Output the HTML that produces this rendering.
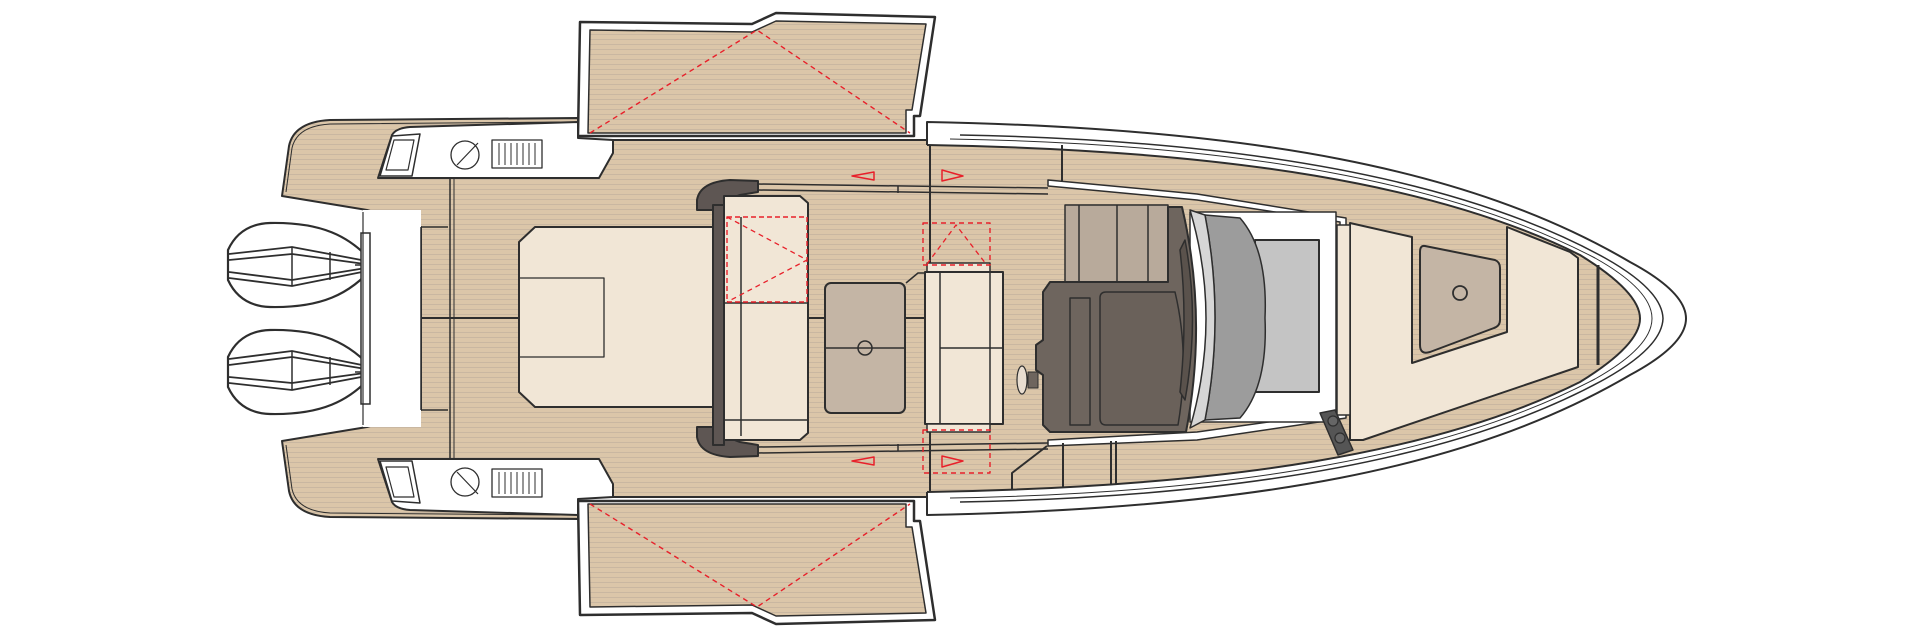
<!DOCTYPE html>
<html><head><meta charset="utf-8"><style>
html,body{margin:0;padding:0;background:#fff;}
svg{display:block;}
</style></head><body>
<svg width="1920" height="637" viewBox="0 0 1920 637" xmlns="http://www.w3.org/2000/svg">
<defs>
<pattern id="wood" width="10" height="5" patternUnits="userSpaceOnUse">
<rect width="10" height="5" fill="#dbc6a9"/>
<line x1="0" y1="4.5" x2="10" y2="4.5" stroke="#c7b5a0" stroke-width="0.9"/>
</pattern>
<g id="half" stroke="#2e2e2e" stroke-width="2" stroke-linejoin="round">
  <path d="M578,136 L580,22 L752,24 L776,13 L935,17 L920,116 L914,116 L914,136 Z" fill="#fff" stroke-width="2.5"/>
  <path d="M588,133 L590,30 L752,32 L776,21 L926,24 L912,110 L906,110 L906,133 Z" fill="url(#wood)" stroke-width="1.5"/>
  <path d="M590,133 L757,30 L910,133" fill="none" stroke="#e8202a" stroke-width="1.4" stroke-dasharray="5,4"/>
  <path d="M282,196 L289,146 Q294,122 330,120 L578,118 L578,140 L930,140 L930,319 L421,319 L421,227 L367,210 Z" fill="url(#wood)"/>
  <path d="M286,192 L292,148 Q297,126 330,124 L560,122" fill="none" stroke-width="1"/>
  <path d="M378,178 L392,135 Q396,128 410,127 L578,122 L578,138 L613,140 L613,153 L599,178 Z" fill="#fff"/>
  <path d="M380,176 L392,136 L420,134 L412,176 Z" fill="#fff" stroke-width="1.5"/>
  <path d="M386,170 L394,140 L414,140 L408,170 Z" fill="#fff" stroke-width="1.2"/>
  <circle cx="465" cy="155" r="14" fill="none" stroke-width="1.3"/>
  <line x1="457" y1="165" x2="478" y2="143" stroke-width="1.2"/>
  <rect x="492" y="140" width="50" height="28" fill="#fff" stroke-width="1.3"/>
  <path d="M499,143v22M505,143v22M511,143v22M517,143v22M523,143v22M529,143v22M535,143v22" stroke-width="1"/>
  <path d="M927,122 C1250,128 1470,168 1630,262 Q1686,292 1686,318.5 L1640,318.5 Q1640,292 1580,255 C1440,185 1230,150 927,145 Z" fill="#fff" stroke="none"/>
  <path d="M927,145 L927,122 C1250,128 1470,168 1630,262 Q1686,292 1686,318.5" fill="none"/>
  <path d="M1640,318.5 Q1640,292 1580,255 C1440,185 1230,150 927,145" fill="none"/>
  <path d="M960,135 C1240,140 1460,178 1605,258 Q1662,290 1663,318.5" fill="none" stroke-width="1.5"/>
  <path d="M950,139 C1240,144 1450,182 1595,258 Q1652,290 1652,318.5" fill="none" stroke-width="1"/>
  <path d="M758,184 L1048,188" fill="none" stroke-width="1.5"/>
  <path d="M758,190 L1048,194" fill="none" stroke-width="1.5"/>
  <line x1="898" y1="186" x2="898" y2="193" stroke-width="1.5"/>
  <path d="M697,210 L697,200 Q700,182 730,180 L758,181 L758,192 L740,195 Q725,200 720,210 Z" fill="#5e5653"/>
  <path d="M874,172 L852,176 L874,180 Z" fill="none" stroke="#e8202a" stroke-width="1.5"/>
  <path d="M942,170 L963,176 L942,181 Z" fill="none" stroke="#e8202a" stroke-width="1.5"/>
  <path d="M375,265 C350,235 320,222 270,223 Q240,224 228,250 L228,280 Q240,306 270,307 C320,308 350,295 375,265 Z" fill="#fff" stroke-width="2.2"/>
  <path d="M229,254 L292,247 L372,262 M229,260 L292,254 L372,265 M229,272 L292,280 L372,267 M229,278 L292,286 L372,270" fill="none" stroke-width="1.8"/>
  <path d="M292,247 V286 M330,252 V280" stroke-width="1.5"/>
  <line x1="355" y1="265" x2="385" y2="265" stroke-width="1.5"/>
</g>
</defs>
<rect width="1920" height="637" fill="#fff"/>
<path d="M927,145 C1230,150 1440,185 1580,255 Q1640,292 1640,318 Q1640,344 1580,381 C1440,452 1230,487 927,492 Z" fill="url(#wood)"/>
<rect x="421" y="140" width="510" height="357" fill="url(#wood)"/>
<use href="#half"/>
<use href="#half" transform="matrix(1,0,0,-1,0,637)"/>
<rect x="363" y="210" width="58" height="217" fill="#fff" stroke="none"/>
<rect x="361" y="233" width="9" height="171" fill="#fff" stroke="#2e2e2e" stroke-width="1.5"/>
<line x1="363" y1="212" x2="363" y2="425" stroke="#2e2e2e" stroke-width="1.2"/>
<line x1="421" y1="227" x2="421" y2="410" stroke="#2e2e2e" stroke-width="1.5"/>
<line x1="421" y1="227" x2="448" y2="227" stroke="#2e2e2e" stroke-width="1.5"/>
<line x1="421" y1="410" x2="448" y2="410" stroke="#2e2e2e" stroke-width="1.5"/>
<line x1="450" y1="178" x2="450" y2="459" stroke="#2e2e2e" stroke-width="1.5"/>
<line x1="454" y1="178" x2="454" y2="459" stroke="#2e2e2e" stroke-width="1"/>
<g stroke="#2e2e2e" stroke-width="2" stroke-linejoin="round">
<path d="M535,227 L715,227 L715,407 L535,407 L519,392 L519,242 Z" fill="#f1e6d6"/>
<rect x="519" y="278" width="85" height="79" fill="none" stroke-width="1.3"/>
<rect x="713" y="205" width="11" height="240" fill="#5e5653"/>
<path d="M724,196 L800,196 L808,203 L808,433 L800,440 L724,440 Z" fill="#f1e6d6"/>
<line x1="741" y1="217" x2="741" y2="436" stroke-width="1.5"/>
<line x1="724" y1="303" x2="808" y2="303" stroke-width="1.5"/>
<line x1="724" y1="420" x2="808" y2="420" stroke-width="1.5"/>
<rect x="727" y="217" width="80" height="85" fill="none" stroke="#e8202a" stroke-width="1.4" stroke-dasharray="5,3"/>
<path d="M727,217 L807,260 L727,302" fill="none" stroke="#e8202a" stroke-width="1.3" stroke-dasharray="5,4"/>
<rect x="825" y="283" width="80" height="130" rx="6" fill="#c4b5a5"/>
<line x1="825" y1="348" x2="905" y2="348" stroke-width="1.5"/>
<circle cx="865" cy="348" r="7" fill="none" stroke-width="1.5"/>
<path d="M906,283 L918,273 L925,273" fill="none" stroke-width="1.5"/>
<rect x="927" y="263" width="63" height="10" fill="#f1e6d6" stroke-width="1.5"/>
<rect x="925" y="272" width="78" height="152" fill="#f1e6d6"/>
<line x1="940" y1="272" x2="940" y2="424" stroke-width="1.5"/>
<line x1="990" y1="272" x2="990" y2="424" stroke-width="1.5"/>
<line x1="940" y1="348" x2="1003" y2="348" stroke-width="1.5"/>
<rect x="927" y="424" width="63" height="8" fill="#f1e6d6" stroke-width="1.5"/>
<rect x="923" y="223" width="67" height="42" fill="none" stroke="#e8202a" stroke-width="1.4" stroke-dasharray="5,4"/>
<path d="M927,264 L956,225 L986,264" fill="none" stroke="#e8202a" stroke-width="1.3" stroke-dasharray="5,4"/>
<rect x="923" y="430" width="67" height="43" fill="none" stroke="#e8202a" stroke-width="1.4" stroke-dasharray="5,4"/>
<line x1="1062" y1="145" x2="1062" y2="188" stroke-width="2"/>
<rect x="1065" y="205" width="103" height="77" fill="#b8aa9b" stroke-width="1.5"/>
<path d="M1079,205V282M1117,205V282M1148,205V282" stroke-width="1.5"/>
<path d="M1048,186 L1197,200 L1340,222 L1340,412 L1197,432 L1048,440 L1048,446 L1197,440 L1346,418 L1346,218 L1197,194 L1048,180 Z" fill="#fff" stroke-width="1.5"/>
<rect x="1190" y="212" width="146" height="210" fill="#fff" stroke-width="1.5"/>
<rect x="1255" y="240" width="64" height="152" fill="#c4c4c4" stroke-width="2"/>
<path d="M1205,215 L1240,218 Q1268,250 1265,318 Q1268,386 1240,418 L1205,420 Q1225,318 1205,215 Z" fill="#9c9c9c" stroke-width="1.5"/>
<path d="M1190,210 Q1222,318 1190,428 L1205,420 Q1225,318 1205,215 Z" fill="#d6d6d6" stroke-width="1.5"/>
<path d="M1043,292 L1050,282 L1168,282 L1168,207 L1182,207 Q1208,318 1186,432 L1050,432 L1043,425 L1043,375 L1036,370 L1036,345 L1043,340 Z" fill="#6e655e"/>
<path d="M1100,298 Q1100,292 1106,292 L1175,292 Q1190,355 1178,425 L1106,425 Q1100,425 1100,418 Z" fill="#6a615a" stroke-width="1.5"/>
<rect x="1070" y="298" width="20" height="127" fill="none" stroke-width="1.5"/>
<path d="M1185,240 Q1200,318 1185,400 L1180,392 Q1188,318 1180,250 Z" fill="#5a524c" stroke-width="1.5"/>
<ellipse cx="1022" cy="380" rx="5" ry="14" fill="#e8ddd0" stroke-width="1.2"/>
<rect x="1028" y="372" width="10" height="16" fill="#6e655e" stroke-width="1"/>
<path d="M1047,446 L1012,473 L1012,490" fill="none" stroke-width="2"/>
<line x1="1063" y1="443" x2="1063" y2="488" stroke-width="2"/>
<line x1="1111" y1="441" x2="1111" y2="485" stroke-width="2"/>
<line x1="1116" y1="441" x2="1116" y2="485" stroke-width="2"/>
<path d="M1350,223 L1412,237 L1412,363 L1507,332 L1507,227 L1570,252 L1578,258 L1578,367 L1363,440 L1350,440 Z" fill="#f1e6d6"/>
<path d="M1425,246 L1495,260 Q1500,262 1500,268 L1500,320 Q1500,326 1494,328 L1430,352 Q1420,355 1420,345 L1420,252 Q1420,245 1425,246 Z" fill="#c4b5a5"/>
<circle cx="1460" cy="293" r="7" fill="none" stroke-width="1.8"/>
<line x1="1598" y1="265" x2="1598" y2="365" stroke-width="3"/>
<rect x="1337" y="225" width="13" height="190" fill="#f1e6d6" stroke-width="1.5"/>
<path d="M1320,413 L1335,410 L1353,450 L1338,455 Z" fill="#555" stroke-width="1.5"/>
<circle cx="1333" cy="421" r="5" fill="#666" stroke-width="1.2"/>
<circle cx="1340" cy="438" r="5" fill="#666" stroke-width="1.2"/>
</g>
</svg>
</body></html>
